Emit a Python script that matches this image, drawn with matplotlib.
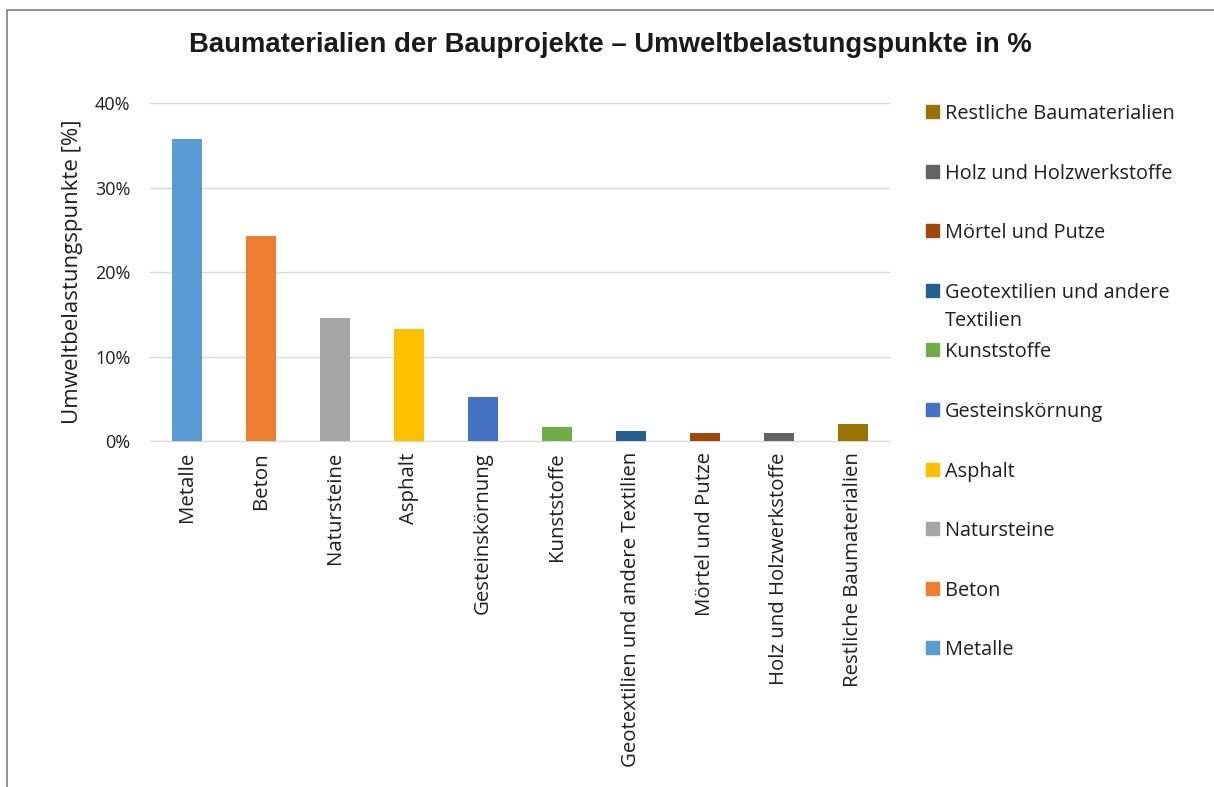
import matplotlib.pyplot as plt
from matplotlib.patches import Rectangle
from matplotlib.ticker import PercentFormatter

plt.rcParams['font.family'] = ['Open Sans', 'DejaVu Sans']

# data
categories = ['Metalle', 'Beton', 'Natursteine', 'Asphalt', 'Gesteinskörnung',
              'Kunststoffe', 'Geotextilien und andere Textilien', 'Mörtel und Putze',
              'Holz und Holzwerkstoffe', 'Restliche Baumaterialien']
values = [35.7, 24.3, 14.6, 13.25, 5.2, 1.7, 1.2, 0.9, 1.0, 2.0]
legend_labels = ['Metalle', 'Beton', 'Natursteine', 'Asphalt', 'Gesteinskörnung',
                 'Kunststoffe', 'Geotextilien und andere\nTextilien', 'Mörtel und Putze',
                 'Holz und Holzwerkstoffe', 'Restliche Baumaterialien']
colors = ['#5b9bd5', '#ed7d31', '#a5a5a5', '#ffc000', '#4472c4',
          '#70ad47', '#255e91', '#9e480e', '#636363', '#997300']

fig = plt.figure(figsize=(12.14, 7.87), dpi=100)
ax = fig.add_axes([0.1236, 0.4396, 0.6094, 0.4295])

x = range(len(categories))
ax.bar(x, values, width=0.4, color=colors, zorder=3)
ax.set_xlim(-0.5, len(categories) - 0.5)
ax.set_ylim(0, 40)
ax.set_yticks([0, 10, 20, 30, 40])
ax.yaxis.set_major_formatter(PercentFormatter(decimals=0))
ax.set_xticks(list(x))
ax.set_xticklabels(categories, rotation=90, fontsize=14.7, color='#1f1f1f')
ax.tick_params(axis='y', labelsize=13, labelcolor='#1f1f1f', length=0, pad=14)
ax.tick_params(axis='x', length=0, pad=8)
ax.grid(axis='y', color='#d9d9d9', linewidth=1, zorder=0)
for s in ['top', 'right', 'left']:
    ax.spines[s].set_visible(False)
ax.spines['bottom'].set_color('#d9d9d9')
ax.set_ylabel('Umweltbelastungspunkte [%]', fontsize=16, color='#1f1f1f', labelpad=9)

fig.text(0.503, 0.943, 'Baumaterialien der Bauprojekte – Umweltbelastungspunkte in %',
         ha='center', va='center', fontsize=19.8, fontweight='bold',
         family='Liberation Sans', color='#1a1a1a')

# legend, reversed order, handle aligned to first line
W, H = 1214, 787
for i, idx in enumerate(reversed(range(len(categories)))):
    yc = 112 + i * 59.6
    fig.patches.append(Rectangle((926 / W, 1 - (yc + 6) / H), 13 / W, 13 / H,
                                 transform=fig.transFigure, color=colors[idx]))
    fig.text(945 / W, 1 - (yc - 8) / H, legend_labels[idx], ha='left', va='top',
             fontsize=14.3, color='#1f1f1f', linespacing=1.55)

# outer frame
fig.patches.append(Rectangle((7 / W, -0.05), 1.2, 1 - 10 / H + 0.05,
                             transform=fig.transFigure, fill=False,
                             edgecolor='#808080', linewidth=1.2))

fig.savefig('out.png', dpi=100)
